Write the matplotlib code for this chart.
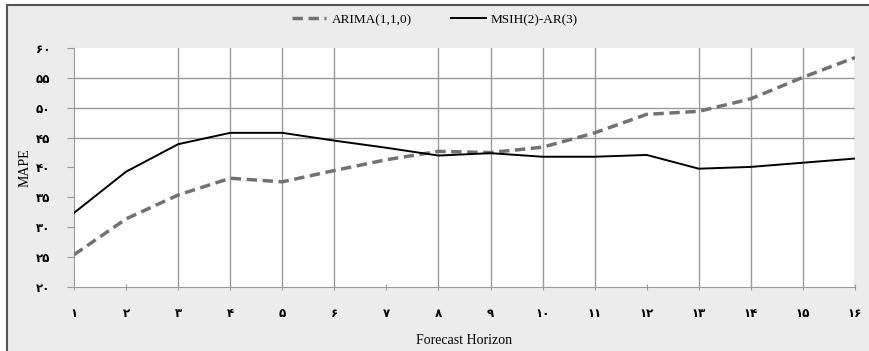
import matplotlib.pyplot as plt
from matplotlib.patches import Rectangle

# Forecast horizon and MAPE values
horizon = list(range(1, 17))
arima = [25.4, 31.4, 35.4, 38.2, 37.6, 39.5, 41.3, 42.7, 42.5, 43.4,
         45.8, 48.9, 49.4, 51.5, 55.1, 58.4]
msih = [32.4, 39.3, 43.9, 45.8, 45.8, 44.5, 43.3, 42.0, 42.4, 41.8,
        41.8, 42.1, 39.8, 40.1, 40.8, 41.5]

fa_digits = "۰۱۲۳۴۵۶۷۸۹"
def to_fa(n):
    return "".join(fa_digits[int(c)] for c in str(n))

x_labels = [to_fa(h) for h in horizon]
y_ticks = [20, 25, 30, 35, 40, 45, 50, 55, 60]
y_labels = [to_fa(v) for v in y_ticks]
# only some grid lines are visible in the source image
x_grid = [3, 4, 5, 6, 8, 9, 10, 11, 13, 14, 15, 16]
y_grid = [45, 50, 55]

fig = plt.figure(figsize=(8.70, 3.51), dpi=100)
fig.patch.set_facecolor("white")
bg = Rectangle((7 / 870, -0.01), 1.0, 1 - 5 / 351 + 0.01, transform=fig.transFigure,
               facecolor="#ececec", edgecolor="#555555", linewidth=1.5, zorder=-10)
fig.patches.append(bg)

ax = fig.add_axes([74 / 870, 1 - 287 / 351, (855 - 74) / 870, (287 - 48) / 351])
ax.set_facecolor("white")

for gx in x_grid:
    ax.axvline(gx, color="#9a9a9a", linewidth=1, zorder=1)
for gy in y_grid:
    ax.axhline(gy, color="#9a9a9a", linewidth=1, zorder=1)

ax.plot(horizon, arima, color="#727272", linewidth=2.5, linestyle=(0, (3, 1.6)),
        label="ARIMA(1,1,0)", zorder=3)
ax.plot(horizon, msih, color="black", linewidth=1.4, label="MSIH(2)-AR(3)", zorder=3)

ax.set_xlim(1, 16)
ax.set_ylim(20, 60)
ax.set_xticks(horizon)
ax.set_xticklabels(x_labels, fontsize=8.5, fontweight="bold", family="DejaVu Sans")
ax.set_yticks(y_ticks)
ax.set_yticklabels(y_labels, fontsize=8.5, fontweight="bold", family="DejaVu Sans")
ax.tick_params(axis="x", length=5, color="#9a9a9a", pad=12, direction="inout")
ax.tick_params(axis="y", length=5, color="#9a9a9a", pad=12, direction="out")

for side in ["top", "right"]:
    ax.spines[side].set_visible(False)
ax.spines["left"].set_color("#9a9a9a")
ax.spines["bottom"].set_color("#9a9a9a")

ax.set_xlabel("Forecast Horizon", family="Liberation Serif", fontsize=10, labelpad=10)
ax.set_ylabel("MAPE", family="Liberation Serif", fontsize=10, labelpad=3)

fig.legend(loc="upper center", bbox_to_anchor=(0.5, 0.995), ncol=2, frameon=False,
           prop={"family": "Liberation Serif", "size": 9.5}, handlelength=2.6,
           columnspacing=3.0, handletextpad=0.4)

fig.savefig("out.png", dpi=100)
